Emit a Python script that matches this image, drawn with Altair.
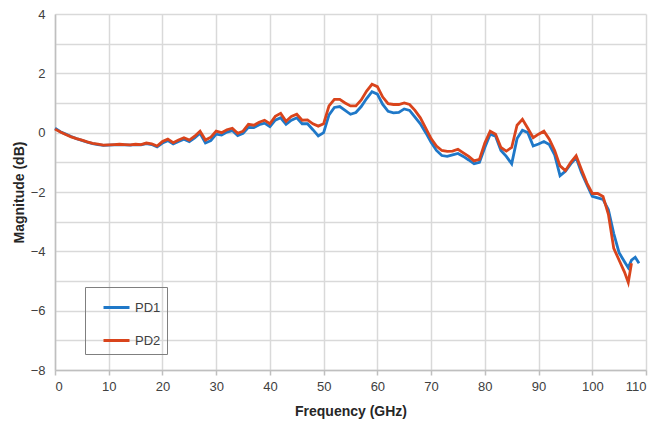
import altair as alt
import pandas as pd

# PD2 (red) frequency grid and values
freq_pd2 = [0, 1, 2, 3, 4, 5, 6, 7, 8, 9, 10, 11, 12, 13, 14, 15, 16, 17, 18, 19,
            20, 21, 22, 23, 24, 25, 26, 27, 28, 29, 30, 31, 32, 33, 34, 35, 36, 37, 38, 39,
            40, 41, 42, 43, 44, 45, 46, 47, 48, 49, 50, 51, 52, 53, 54, 55, 56, 57, 58, 59,
            60, 61, 62, 63, 64, 65, 66, 67, 68, 69, 70, 71, 72, 73, 74, 75, 76, 77, 78, 79,
            80, 81, 82, 83, 84, 85, 86, 87, 88, 89, 90, 91, 92, 93, 94, 95, 96, 97, 98, 99,
            100, 101, 102, 103, 104, 105, 106, 106.7, 107.3]
mag_pd2 = [0.12, 0.02, -0.06, -0.14, -0.2, -0.25, -0.31, -0.36, -0.39, -0.42,
           -0.41, -0.4, -0.39, -0.4, -0.41, -0.39, -0.4, -0.35, -0.38, -0.45,
           -0.3, -0.22, -0.34, -0.25, -0.17, -0.25, -0.12, 0.05, -0.25, -0.15,
           0.05, 0.0, 0.1, 0.15, -0.02, 0.05, 0.28, 0.25, 0.35, 0.42,
           0.3, 0.55, 0.65, 0.38, 0.55, 0.62, 0.42, 0.43, 0.3, 0.22,
           0.3, 0.9, 1.12, 1.12, 1.0, 0.9, 0.9, 1.1, 1.4, 1.63,
           1.55, 1.2, 0.98, 0.95, 0.95, 1.0, 0.95, 0.75, 0.5, 0.15,
           -0.2, -0.45, -0.6, -0.63, -0.62, -0.56, -0.68, -0.8, -0.95, -0.9,
           -0.35, 0.05, -0.05, -0.5, -0.62, -0.5, 0.25, 0.45, 0.15, -0.17,
           -0.05, 0.05, -0.22, -0.6, -1.12, -1.28, -1.0, -0.78, -1.25, -1.7,
           -2.05, -2.05, -2.15, -2.75, -3.9, -4.3, -4.7, -5.05, -4.4]

# PD1 (blue) frequency grid and values
freq_pd1 = [0, 1, 2, 3, 4, 5, 6, 7, 8, 9, 10, 11, 12, 13, 14, 15, 16, 17, 18, 19,
            20, 21, 22, 23, 24, 25, 26, 27, 28, 29, 30, 31, 32, 33, 34, 35, 36, 37, 38, 39,
            40, 41, 42, 43, 44, 45, 46, 47, 48, 49, 50, 51, 52, 53, 54, 55, 56, 57, 58, 59,
            60, 61, 62, 63, 64, 65, 66, 67, 68, 69, 70, 71, 72, 73, 74, 75, 76, 77, 78, 79,
            80, 81, 82, 83, 84, 85, 86, 87, 88, 89, 90, 91, 92, 93, 94, 95, 96, 97, 98, 99,
            100, 101, 102, 103, 104, 105, 106, 106.7, 107.3, 108, 108.7]
mag_pd1 = [0.15, 0.03, -0.05, -0.13, -0.2, -0.26, -0.32, -0.37, -0.4, -0.43,
           -0.42, -0.41, -0.4, -0.41, -0.42, -0.4, -0.41, -0.37, -0.4, -0.48,
           -0.35, -0.27, -0.38, -0.3, -0.22, -0.3, -0.18, -0.02, -0.35, -0.27,
           -0.05, -0.08, 0.02, 0.07, -0.1, -0.02, 0.18, 0.17, 0.27, 0.32,
           0.2, 0.42, 0.5, 0.28, 0.42, 0.5, 0.3, 0.3, 0.1, -0.11,
           0.0, 0.6, 0.85, 0.88, 0.75, 0.62, 0.68, 0.88, 1.15, 1.38,
           1.3, 0.95, 0.72, 0.67, 0.68, 0.8, 0.75, 0.52, 0.3, 0.0,
           -0.32, -0.6, -0.77, -0.8, -0.75, -0.7, -0.8, -0.92, -1.05, -1.0,
           -0.5, -0.05, -0.12, -0.6, -0.8, -1.05, -0.2, 0.08, 0.0, -0.45,
           -0.38, -0.3, -0.4, -0.75, -1.45, -1.3, -1.05, -0.85, -1.35, -1.75,
           -2.15, -2.2, -2.25, -2.6, -3.4, -4.05, -4.35, -4.55, -4.3, -4.2, -4.4]

series_names = ["PD1", "PD2"]
series_colors = ["#1F78C8", "#D9441C"]
x_ticks = [0, 10, 20, 30, 40, 50, 60, 70, 80, 90, 100, 110]
y_grid = [-8, -7, -6, -5, -4, -3, -2, -1, 0, 1, 2, 3, 4]

df = pd.concat([
    pd.DataFrame({"freq": freq_pd1, "mag": mag_pd1, "series": "PD1", "order": range(len(freq_pd1))}),
    pd.DataFrame({"freq": freq_pd2, "mag": mag_pd2, "series": "PD2", "order": range(len(freq_pd2))}),
])

font = "Liberation Sans"

chart = alt.Chart(df).mark_line(strokeWidth=2.8).encode(
    x=alt.X("freq:Q", title="Frequency (GHz)",
            scale=alt.Scale(domain=[0, 110], nice=False),
            axis=alt.Axis(values=x_ticks, tickSize=5, labelPadding=5, titlePadding=11)),
    y=alt.Y("mag:Q", title="Magnitude  (dB)",
            scale=alt.Scale(domain=[-8, 4], nice=False),
            axis=alt.Axis(values=y_grid, ticks=False, labelPadding=10, titlePadding=4,
                          labelExpr="datum.value % 2 === 0 ? datum.label : ''")),
    color=alt.Color("series:N", scale=alt.Scale(domain=series_names, range=series_colors),
                    legend=alt.Legend(title=None, orient="none", legendX=30, legendY=273,
                                      symbolType="stroke", symbolSize=676, symbolStrokeWidth=3,
                                      symbolOffset=11, labelOffset=4, rowPadding=11,
                                      padding=6, strokeColor="#7F7F7F")),
    order="order:Q",
).properties(
    width=591, height=356,
    autosize=alt.AutoSizeParams(type="none"),
    padding={"left": 47, "top": 6, "right": 7, "bottom": 50},
).configure_view(
    stroke=None
).configure_axis(
    gridColor="#D9D9D9", gridWidth=1.5,
    domainColor="#BFBFBF", domainWidth=1.5,
    tickColor="#BFBFBF", tickWidth=1.5,
    labelFont=font, labelFontSize=13, labelColor="#404040",
    titleFont=font, titleFontSize=14, titleFontWeight="bold", titleColor="#262626",
).configure_legend(
    labelFont=font, labelFontSize=13, labelColor="#404040",
)

chart.save("out.html", embed_options={"renderer": "svg", "actions": False})
